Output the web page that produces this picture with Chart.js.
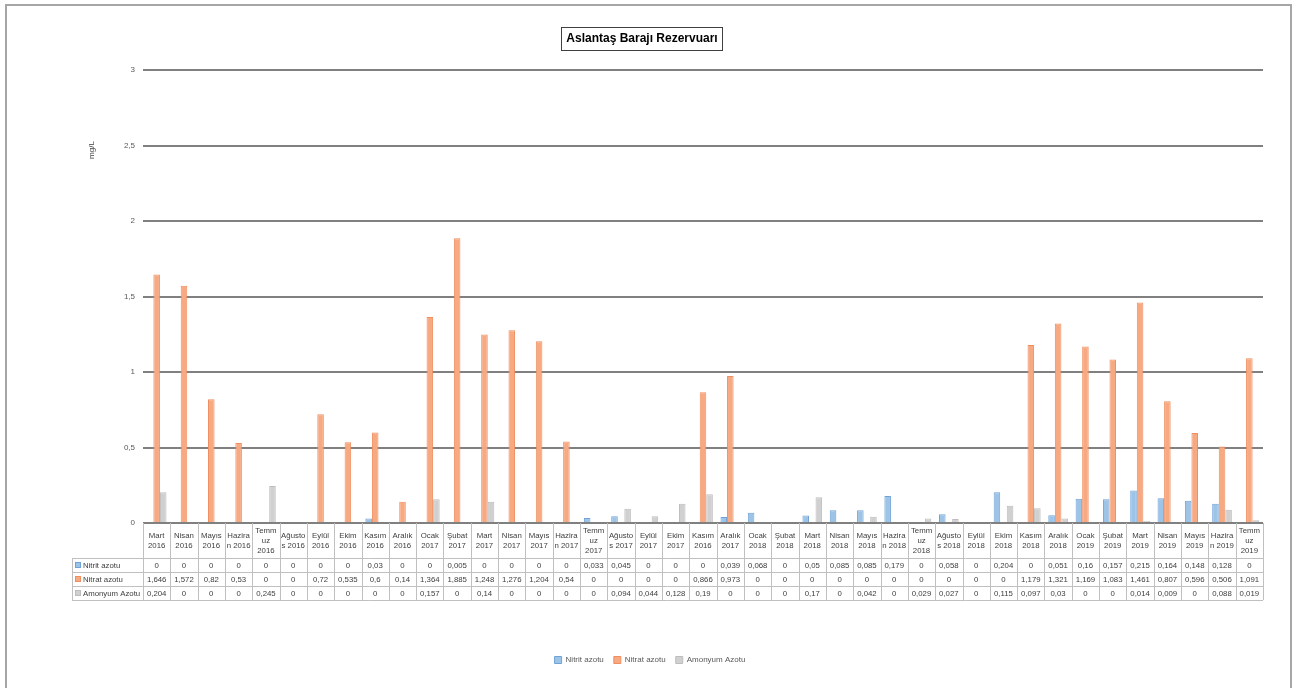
<!DOCTYPE html>
<html>
<head>
<meta charset="utf-8">
<script src="https://cdn.jsdelivr.net/npm/chart.js@4.4.0/dist/chart.umd.min.js"></script>
<style>
  html, body { margin: 0; padding: 0; background: #fff; }
  canvas { display: block; }
</style>
</head>
<body>
<canvas id="myChart" width="1297" height="688"></canvas>
<script>
// category labels, as printed in the table (line breaks included)
let kategoriler = [
    ["Mart", "2016"], ["Nisan", "2016"], ["Mayıs", "2016"], ["Hazira", "n 2016"], ["Temm", "uz", "2016"],
    ["Ağusto", "s 2016"], ["Eylül", "2016"], ["Ekim", "2016"], ["Kasım", "2016"], ["Aralık", "2016"],
    ["Ocak", "2017"], ["Şubat", "2017"], ["Mart", "2017"], ["Nisan", "2017"], ["Mayıs", "2017"],
    ["Hazira", "n 2017"], ["Temm", "uz", "2017"], ["Ağusto", "s 2017"], ["Eylül", "2017"], ["Ekim", "2017"],
    ["Kasım", "2016"], ["Aralık", "2017"], ["Ocak", "2018"], ["Şubat", "2018"], ["Mart", "2018"],
    ["Nisan", "2018"], ["Mayıs", "2018"], ["Hazira", "n 2018"], ["Temm", "uz", "2018"], ["Ağusto", "s 2018"],
    ["Eylül", "2018"], ["Ekim", "2018"], ["Kasım", "2018"], ["Aralık", "2018"], ["Ocak", "2019"],
    ["Şubat", "2019"], ["Mart", "2019"], ["Nisan", "2019"], ["Mayıs", "2019"], ["Hazira", "n 2019"],
    ["Temm", "uz", "2019"]
];

let nitrit = [
    0, 0, 0, 0, 0, 0, 0, 0, 0.03, 0,
    0, 0.005, 0, 0, 0, 0, 0.033, 0.045, 0, 0,
    0, 0.039, 0.068, 0, 0.05, 0.085, 0.085, 0.179, 0, 0.058,
    0, 0.204, 0, 0.051, 0.16, 0.157, 0.215, 0.164, 0.148, 0.128,
    0
];
let nitrat = [
    1.646, 1.572, 0.82, 0.53, 0, 0, 0.72, 0.535, 0.6, 0.14,
    1.364, 1.885, 1.248, 1.276, 1.204, 0.54, 0, 0, 0, 0,
    0.866, 0.973, 0, 0, 0, 0, 0, 0, 0, 0,
    0, 0, 1.179, 1.321, 1.169, 1.083, 1.461, 0.807, 0.596, 0.506,
    1.091
];
let amonyum = [
    0.204, 0, 0, 0, 0.245, 0, 0, 0, 0, 0,
    0.157, 0, 0.14, 0, 0, 0, 0, 0.094, 0.044, 0.128,
    0.19, 0, 0, 0, 0.17, 0, 0.042, 0, 0.029, 0.027,
    0, 0.115, 0.097, 0.03, 0, 0, 0.014, 0.009, 0, 0.088,
    0.019
];

let seriAdlari = ["Nitrit azotu", "Nitrat azotu", "Amonyum Azotu"];
let yMin  = 0;
let yMax  = 3;
let yStep = 0.5;
let baslik = "Aslantaş Barajı Rezervuarı";
let birim  = "mg/L";

let dolgu  = ["#9dc3e6", "#f7a982", "#d0d0d0"];
let kenar  = ["#6fa3d8", "#f08e5f", "#bdbdbd"];
let font   = "'Liberation Sans', Arial, sans-serif";

function virgul(v) {
    return String(v).replace(".", ",");
}

// frame, title box, y axis title
const arkaPlan = {
    id: "arkaPlan",
    beforeDraw(chart) {
        const c = chart.ctx;
        c.save();
        c.fillStyle = "#fff";
        c.fillRect(0, 0, chart.width, chart.height);
        c.strokeStyle = "#a6a6a6";
        c.lineWidth = 2;
        c.strokeRect(6, 5, 1285, 700);

        c.font = "bold 12px " + font;
        c.fillStyle = "#000";
        c.textAlign = "center";
        c.textBaseline = "middle";
        const w = c.measureText(baslik).width;
        c.fillText(baslik, 642, 39);
        c.strokeStyle = "#404040";
        c.lineWidth = 1;
        c.strokeRect(Math.round(642 - w / 2 - 5) + 0.5, 27.5, Math.round(w + 10), 23);

        c.translate(92, 150);
        c.rotate(-Math.PI / 2);
        c.font = "8px " + font;
        c.fillStyle = "#404040";
        c.fillText(birim, 0, 0);
        c.restore();
    }
};

// data table under the x axis
const veriTablosu = {
    id: "veriTablosu",
    afterDraw(chart) {
        const c = chart.ctx;
        const x = chart.scales.x;
        const y0 = chart.chartArea.bottom;
        const yust = y0 + 35;
        const satir = 14;
        const yalt = yust + satir * 3;
        const yarim = (x.getPixelForValue(1) - x.getPixelForValue(0)) / 2;
        const sol = x.getPixelForValue(0) - yarim;
        const sag = x.getPixelForValue(kategoriler.length - 1) + yarim;
        const tabloSol = 72;
        const seriler = [nitrit, nitrat, amonyum];

        c.save();
        c.strokeStyle = "#c0c0c0";
        c.lineWidth = 1;
        c.beginPath();
        for (let i = 0; i <= kategoriler.length; i++) {
            const xx = Math.round(sol + i * yarim * 2) + 0.5;
            c.moveTo(xx, y0);
            c.lineTo(xx, yalt);
        }
        c.moveTo(tabloSol + 0.5, yust);
        c.lineTo(tabloSol + 0.5, yalt);
        for (let r = 0; r <= 3; r++) {
            const yy = yust + r * satir + 0.5;
            c.moveTo(tabloSol, yy);
            c.lineTo(sag, yy);
        }
        c.stroke();

        c.font = "7.8px " + font;
        c.fillStyle = "#404040";
        c.textAlign = "center";
        c.textBaseline = "middle";
        kategoriler.forEach((lab, i) => {
            const cx = x.getPixelForValue(i);
            const lh = 10;
            const ys = (y0 + yust) / 2 - (lab.length - 1) * lh / 2;
            lab.forEach((t, k) => c.fillText(t, cx, ys + k * lh));
            seriler.forEach((s, r) => {
                c.fillText(virgul(s[i]), cx, yust + r * satir + satir / 2 + 0.5);
            });
        });

        c.textAlign = "left";
        seriAdlari.forEach((ad, r) => {
            const yy = yust + r * satir + satir / 2;
            c.fillStyle = dolgu[r];
            c.fillRect(tabloSol + 3, yy - 3, 6, 6);
            c.strokeStyle = kenar[r];
            c.strokeRect(tabloSol + 3.5, yy - 2.5, 5, 5);
            c.fillStyle = "#404040";
            c.fillText(ad, tabloSol + 11, yy + 0.5);
        });
        c.restore();
    }
};

const ctx = document.getElementById("myChart").getContext("2d");
const myChart = new Chart(ctx, {
    type: "bar",
    data: {
        labels: kategoriler,
        datasets: [nitrit, nitrat, amonyum].map((d, i) => ({
            label: seriAdlari[i],
            data: d,
            backgroundColor: dolgu[i],
            borderColor: kenar[i],
            borderWidth: 1,
            categoryPercentage: 0.72,
            barPercentage: 1.0
        }))
    },
    options: {
        responsive: false,
        animation: false,
        layout: {
            padding: { left: 37, right: 34, top: 70, bottom: 14 }
        },
        plugins: {
            title: { display: false },
            tooltip: { enabled: false },
            legend: {
                position: "bottom",
                labels: {
                    boxWidth: 7,
                    boxHeight: 7,
                    padding: 10,
                    color: "#595959",
                    font: { size: 8, family: font }
                }
            }
        },
        scales: {
            x: {
                grid: { display: false },
                border: { display: false },
                ticks: { display: false },
                afterFit: (scale) => { scale.height = 123; }
            },
            y: {
                min: yMin,
                max: yMax,
                grid: { color: "#808080", lineWidth: 2, drawTicks: false },
                border: { display: false },
                ticks: {
                    stepSize: yStep,
                    padding: 8,
                    color: "#595959",
                    font: { size: 8, family: font },
                    callback: (v) => virgul(v)
                },
                afterFit: (scale) => { scale.width = 106; }
            }
        }
    },
    plugins: [arkaPlan, veriTablosu]
});
</script>
</body>
</html>
